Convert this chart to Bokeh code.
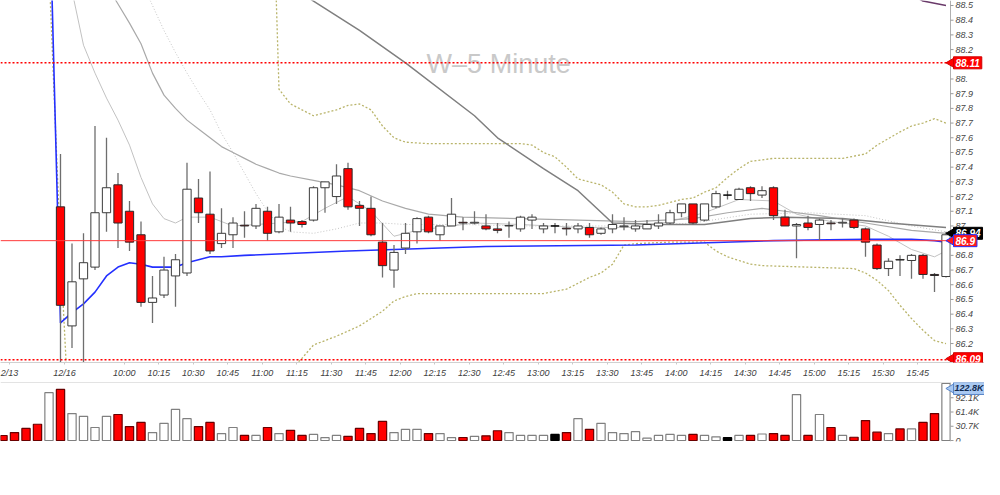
import math
from bokeh.plotting import figure
from bokeh.layouts import column
from bokeh.models import Range1d, FixedTicker, Label, ColumnDataSource
from bokeh.core.properties import value
from bokeh.embed import file_html
from bokeh.resources import INLINE

# ---------------- data ----------------
bar_index = list(range(-5, 78))          # 5-minute bars; 0 = 9:30 of 12/16
opens = [89.45, 89.35, 89.25, 89.10, 88.95,
         87.13, 86.32, 86.64, 86.72, 87.09, 87.28, 87.10, 86.94, 86.48, 86.53,
         86.66, 86.68, 87.19, 87.08, 86.88, 86.94, 87.005, 87.00, 87.10, 86.96,
         87.04, 87.03, 87.04, 87.26, 87.20, 87.39, 87.14, 87.12, 86.89, 86.70,
         86.85, 86.96, 87.06, 86.94, 87.00, 87.025, 87.02, 87.00, 86.98, 87.00,
         86.98, 87.04, 86.98, 87.00, 86.985, 86.98, 86.99, 86.95, 86.98, 86.995,
         86.98, 86.98, 87.00, 87.02, 87.09, 87.15, 87.04, 87.13, 87.21, 87.18,
         87.26, 87.21, 87.26, 87.06, 87.00, 87.02, 87.01, 87.02, 87.02, 87.04,
         86.98, 86.87, 86.71, 86.772, 86.765, 86.80, 86.67, 86.656]
highs = [89.52, 89.40, 89.30, 89.15, 89.30,
         87.49, 86.88, 86.95, 87.68, 87.60, 87.36, 87.17, 87.03, 86.66, 86.79,
         86.81, 87.43, 87.32, 87.37, 87.12, 87.06, 87.10, 87.15, 87.13, 87.15,
         87.13, 87.04, 87.27, 87.30, 87.42, 87.43, 87.17, 87.20, 87.02, 86.87,
         87.02, 87.06, 87.07, 87.00, 87.19, 87.06, 87.10, 87.08, 87.02, 87.03,
         87.07, 87.08, 87.02, 87.02, 87.02, 87.02, 87.02, 86.99, 87.08, 87.06,
         87.04, 87.04, 87.08, 87.11, 87.15, 87.15, 87.15, 87.24, 87.24, 87.26,
         87.27, 87.27, 87.27, 87.11, 87.02, 87.07, 87.05, 87.04, 87.05, 87.05,
         86.99, 86.88, 86.78, 86.80, 86.81, 86.81, 86.68, 86.96]
lows = [89.30, 89.20, 89.05, 88.90, 88.85,
        85.95, 86.17, 85.98, 86.70, 86.96, 86.85, 86.83, 86.45, 86.34, 86.51,
        86.45, 86.66, 87.02, 86.81, 86.85, 86.85, 86.92, 86.98, 86.90, 86.95,
        86.96, 86.99, 87.03, 87.09, 87.15, 87.11, 87.00, 86.93, 86.65, 86.58,
        86.81, 86.88, 86.95, 86.90, 87.00, 86.97, 87.01, 86.97, 86.95, 86.92,
        86.96, 86.98, 86.95, 86.95, 86.935, 86.95, 86.92, 86.94, 86.95, 86.97,
        86.96, 86.98, 86.98, 87.01, 87.06, 87.01, 87.03, 87.12, 87.18, 87.18,
        87.17, 87.19, 87.04, 87.00, 86.78, 86.97, 86.90, 86.97, 86.99, 86.98,
        86.79, 86.70, 86.66, 86.66, 86.64, 86.64, 86.55, 86.65]
closes = [89.35, 89.25, 89.10, 88.95, 89.20,
          86.46, 86.62, 86.75, 87.09, 87.26, 87.02, 86.89, 86.48, 86.51, 86.70,
          86.77, 87.25, 87.09, 86.83, 86.95, 87.02, 87.00, 87.12, 86.95, 87.06,
          87.02, 87.01, 87.26, 87.30, 87.34, 87.13, 87.12, 86.94, 86.73, 86.82,
          86.95, 87.05, 86.96, 87.00, 87.08, 87.02, 87.025, 86.98, 86.97, 87.003,
          87.06, 87.06, 87.00, 87.00, 86.98, 87.00, 86.94, 86.98, 87.01, 87.00,
          87.00, 87.01, 87.02, 87.09, 87.15, 87.02, 87.15, 87.22, 87.21, 87.25,
          87.22, 87.24, 87.07, 87.00, 87.01, 86.99, 87.04, 87.015, 87.025, 86.99,
          86.89, 86.71, 86.76, 86.768, 86.80, 86.67, 86.663, 86.94]
volumes_k = [10.8, 17, 26, 35, 103,
             110, 58, 52, 28, 52, 56, 30, 39, 17, 37,
             67, 47, 30, 39, 15, 28, 11, 11, 28, 15,
             22, 11, 13, 6, 11, 9, 26, 15, 41, 17,
             24, 24, 15, 15, 6, 6.5, 9, 10, 21, 17,
             11, 11, 11, 13, 17, 47, 24, 37, 17, 15,
             19, 5, 11, 13, 11, 13, 11, 8, 6, 11,
             11, 14, 15, 11, 99, 11, 56, 28, 11, 7,
             43, 18, 15, 25, 25, 39, 58, 122.8]

vwap_bar = [-1, 0, 1, 2, 3, 4, 5, 6, 7, 8, 9, 10, 11, 12, 13, 14, 16, 25, 37, 50, 62, 70, 74, 76, 77]
vwap = [89.35, 86.34, 86.41, 86.47, 86.55, 86.66, 86.72, 86.75, 86.74, 86.72, 86.72, 86.72,
        86.75, 86.77, 86.79, 86.79, 86.80, 86.83, 86.86, 86.87, 86.90, 86.91, 86.91, 86.90, 86.89]

ma_fast_bar = [0, 1, 2, 3, 4, 5, 6, 7, 8, 9, 10, 11, 13, 15, 17, 19, 21, 23, 25, 27, 29, 31,
               33, 36, 40, 45, 50, 53, 56, 59, 62, 64, 67, 70, 72, 74, 76, 77]
ma_fast = [88.95, 88.60, 88.23, 88.04, 87.87, 87.72, 87.55, 87.33, 87.15, 87.05, 87.02, 87.06,
           87.06, 87.00, 87.01, 87.02, 87.03, 87.12, 87.20, 87.10, 86.93, 86.97, 86.99, 87.02,
           87.01, 86.99, 86.99, 87.03, 87.09, 87.18, 87.17, 87.08, 87.03, 87.00, 86.93, 86.84,
           86.79, 86.83]

ma_mid_bar = [3, 4, 5, 6, 7, 8, 9, 10, 11, 12, 13, 14, 15, 16, 17, 18, 19, 20, 22, 24, 26, 28,
              30, 32, 35, 40, 45, 50, 55, 58, 61, 63, 66, 70, 74, 77]
ma_mid = [88.80, 88.64, 88.51, 88.38, 88.24, 88.04, 87.89, 87.80, 87.72, 87.66, 87.60, 87.54,
          87.50, 87.46, 87.42, 87.39, 87.36, 87.34, 87.31, 87.28, 87.24, 87.17, 87.12, 87.08,
          87.06, 87.05, 87.04, 87.03, 87.05, 87.09, 87.12, 87.10, 87.07, 87.02, 86.97, 86.95]

ma_dot_bar = [6, 7, 8, 9, 10, 11, 12, 13, 14, 15, 16, 17, 18, 19, 20, 22, 24, 26, 28, 30, 35,
              40, 45, 50, 55, 60, 65, 70, 74, 77]
ma_dot = [88.85, 88.67, 88.50, 88.33, 88.18, 88.04, 87.91, 87.79, 87.63, 87.50, 87.36, 87.22,
          87.10, 87.00, 86.96, 86.95, 86.98, 87.02, 87.02, 87.01, 87.01, 87.00, 87.00, 87.00,
          87.02, 87.08, 87.09, 87.07, 87.00, 86.96]

ma_slow_bar = [15, 22, 26, 30, 36, 38, 42, 45, 48, 52, 56, 60, 63, 68, 72, 77]
ma_slow = [88.88, 88.53, 88.33, 88.11, 87.75, 87.60, 87.39, 87.24, 87.02, 87.01, 87.01, 87.05,
           87.06, 87.05, 87.02, 86.99]

ma_long_bar = [72, 75, 77]
ma_long = [88.66, 88.53, 88.50]

bb_upper_bar = [-5, 0, 10, 17, 18, 19, 20, 21, 22, 23, 24, 25, 26, 27, 28, 29, 30, 32, 36, 40,
                41, 42, 43, 44, 45, 46, 47, 48, 49, 50, 51, 52, 53, 54, 55, 56, 57, 58, 59, 60,
                61, 62, 65, 68, 70, 71, 73, 74, 75, 76, 77]
bb_upper = [91.50, 91.30, 91.00, 90.70, 90.50, 87.93, 87.83, 87.79, 87.75, 87.77, 87.79, 87.82,
            87.83, 87.79, 87.68, 87.60, 87.57, 87.56, 87.56, 87.56, 87.55, 87.50, 87.47, 87.40,
            87.32, 87.30, 87.28, 87.23, 87.15, 87.13, 87.13, 87.14, 87.16, 87.18, 87.19, 87.23,
            87.26, 87.33, 87.39, 87.44, 87.45, 87.46, 87.46, 87.46, 87.49, 87.55, 87.64, 87.68,
            87.70, 87.73, 87.70]
bb_lower_bar = [-5, -1, 0, 1, 10, 18, 19, 20, 21, 22, 24, 26, 28, 29, 30, 31, 40, 42, 44, 45,
                46, 47, 48, 49, 50, 53, 56, 57, 58, 60, 61, 65, 69, 70, 71, 72, 73, 74, 75, 76, 77]
bb_lower = [88.95, 88.75, 86.83, 85.27, 84.90, 85.27, 85.88, 86.02, 86.10, 86.19, 86.25, 86.32,
            86.42, 86.49, 86.52, 86.54, 86.54, 86.54, 86.57, 86.61, 86.65, 86.68, 86.74, 86.87,
            86.88, 86.89, 86.89, 86.83, 86.79, 86.74, 86.73, 86.72, 86.71, 86.68, 86.63, 86.56,
            86.46, 86.37, 86.29, 86.22, 86.20]

prior_high = 88.11
prior_low = 86.09
ref_level = 86.90

time_labels = ["10:00", "10:15", "10:30", "10:45", "11:00", "11:15", "11:30", "11:45",
               "12:00", "12:15", "12:30", "12:45", "13:00", "13:15", "13:30", "13:45",
               "14:00", "14:15", "14:30", "14:45", "15:00", "15:15", "15:30", "15:45"]
date_labels = ["2/13", "12/16"]
price_tick_labels = ["86.2", "86.3", "86.4", "86.5", "86.6", "86.7", "86.8", "86.9", "87.",
                     "87.1", "87.2", "87.3", "87.4", "87.5", "87.6", "87.7", "87.8", "87.9",
                     "88.", "88.1", "88.2", "88.3", "88.4", "88.5"]
title_text = "W\u20135 Minute"

# ---------------- layout ----------------
FONT = "Liberation Sans"
PX = 11.5                    # pixels per bar
W = 984                      # full frame width (price axis column drawn inside)
AXPX = 950                   # pixel position of the price-axis line
X0 = -60 / PX
X1 = X0 + W / PX
AX = X0 + AXPX / PX
TICK = 3 / PX
P_LO, P_HI, P_H = 86.071, 88.534, 362
V_LO, V_HI, V_H = -2150, 124950, 59

p = figure(frame_width=W, frame_height=P_H, x_range=Range1d(X0, X1),
           y_range=Range1d(P_LO, P_HI), y_axis_location=None,
           output_backend="svg", toolbar_location=None,
           min_border_left=0, min_border_top=0, min_border_bottom=20, min_border_right=0)
p.xgrid.visible = False
p.ygrid.visible = False
p.outline_line_color = None
p.background_fill_color = "white"

# watermark
p.text(x=[38.1], y=[88.10], text=[title_text], text_font=value(FONT), text_font_size="27px",
       text_color="#c9c9c9", text_align="center", text_baseline="middle")

# bands / averages (under the candles)
p.line(bb_upper_bar, bb_upper, line_color="#b9b46a", line_width=1.3, line_dash="2 2")
p.line(bb_lower_bar, bb_lower, line_color="#b9b46a", line_width=1.3, line_dash="2 2")
p.line(ma_dot_bar, ma_dot, line_color="#c4c4c4", line_width=1, line_dash="1 2")
p.line(ma_fast_bar, ma_fast, line_color="#c2c2c2", line_width=1)
p.line(ma_mid_bar, ma_mid, line_color="#a9a9a9", line_width=1.2)
p.line(ma_slow_bar, ma_slow, line_color="#7f7f7f", line_width=1.5)
p.line(ma_long_bar, ma_long, line_color="#6a3a6a", line_width=1.5)
p.line(vwap_bar, vwap, line_color="#2430ff", line_width=1.6)

# colours per bar
fills, edges, vedges = [], [], []
for o, c in zip(opens, closes):
    if c < o:
        fills.append("#ff0000"); edges.append("#2a2a2a"); vedges.append("#6a0000")
    elif c > o:
        fills.append("#ffffff"); edges.append("#3a3a3a"); vedges.append("#808080")
    else:
        fills.append("#000000"); edges.append("#000000"); vedges.append("#000000")

# candles of the current session (prior-session candles lie above the visible range)
sess = [i for i, b in enumerate(bar_index) if b >= 0]
csrc = ColumnDataSource(dict(
    x=[bar_index[i] for i in sess], h=[highs[i] for i in sess], l=[lows[i] for i in sess],
    top=[max(opens[i], closes[i]) for i in sess], bot=[min(opens[i], closes[i]) for i in sess],
    fill=[fills[i] for i in sess], edge=[edges[i] for i in sess]))
p.segment(x0="x", y0="l", x1="x", y1="h", source=csrc, line_color="#6e6e6e", line_width=1.3)
p.vbar(x="x", width=0.72, top="top", bottom="bot", source=csrc,
       fill_color="fill", line_color="edge", line_width=1)

# reference levels (stop at the price axis)
p.segment(x0=[X0], y0=[ref_level], x1=[AX], y1=[ref_level], line_color="#ff3a3a", line_width=1)
p.segment(x0=[X0, X0], y0=[prior_high, prior_low], x1=[AX, AX], y1=[prior_high, prior_low],
          line_color="#ff0000", line_width=1.5, line_dash="2 2")


# right-hand value axis drawn inside the frame (so that value tags can overlap it)
def value_axis(fig, ticks, labels, lo, hi):
    fig.segment(x0=[AX], y0=[lo], x1=[AX], y1=[hi], line_color="#b0b0b0", line_width=1)
    fig.segment(x0=[AX] * len(ticks), y0=ticks, x1=[AX + TICK] * len(ticks), y1=ticks,
                line_color="#9a9a9a", line_width=1)
    fig.text(x=[AX] * len(ticks), y=ticks, text=labels, x_offset=5,
             text_font=value(FONT), text_font_size="9px", text_font_style="italic",
             text_color="#454545", text_align="left", text_baseline="middle")


def tag(fig, y, text, bg, fg, border, upp, size="10px", pad=2, dy=0):
    fig.scatter(x=[AX + 0.05], y=[y + dy * upp], marker="triangle", angle=math.pi / 2, size=9,
                fill_color=bg, line_color=border, line_width=1)
    fig.add_layout(Label(x=AX, y=y, text=text, x_offset=3, y_offset=dy,
                         text_align="left", text_baseline="middle", text_font=FONT,
                         text_font_size=size, text_font_style="bold italic", text_color=fg,
                         background_fill_color=bg, border_line_color=border,
                         border_line_width=1, padding=pad))


p_upp = (P_HI - P_LO) / P_H
value_axis(p, [float(s) for s in price_tick_labels], price_tick_labels, P_LO, P_HI)
tag(p, prior_high, f"{prior_high:.2f}", "#ff0000", "white", "#d00000", p_upp)
tag(p, prior_low, f"{prior_low:.2f}", "#ff0000", "white", "#d00000", p_upp, dy=1)
tag(p, closes[-1] + 0.01, f"{closes[-1]:.2f}", "#000000", "white", "#000000", p_upp)
tag(p, ref_level, f"{ref_level:.1f}", "#ff1a1a", "white", "#2430ff", p_upp)


def bar_of(t):
    h, m = map(int, t.split(":"))
    return (h * 60 + m - (9 * 60 + 30)) / 5


xt = {round(bar_of(t) - 0.45, 3): t for t in time_labels}
xt[round(X0 + 0.78, 3)] = date_labels[0]
xt[round(0 + 0.35, 3)] = date_labels[1]
p.xaxis.ticker = FixedTicker(ticks=sorted(xt))
p.xaxis.major_label_overrides = xt
p.xaxis.major_label_text_font = FONT
p.xaxis.major_label_text_font_size = "9px"
p.xaxis.major_label_text_font_style = "italic"
p.xaxis.major_label_text_color = "#404040"
p.xaxis.major_label_standoff = 3
p.xaxis.major_tick_out = 2
p.xaxis.major_tick_in = 0
p.xaxis.major_tick_line_color = "#c8c8c8"
p.xaxis.minor_tick_line_color = None
p.xaxis.axis_line_color = "#d0d0d0"

# ---------------- volume panel ----------------
vmax = max(volumes_k) * 1000
vsrc = ColumnDataSource(dict(x=bar_index, vol=[v * 1000 for v in volumes_k],
                             fill=fills, vedge=vedges))
pv = figure(frame_width=W, frame_height=V_H, x_range=p.x_range,
            y_range=Range1d(V_LO, V_HI), y_axis_location=None, x_axis_location=None,
            output_backend="svg", toolbar_location=None,
            min_border_left=0, min_border_top=0, min_border_bottom=10, min_border_right=0)
pv.xgrid.visible = False
pv.ygrid.visible = False
pv.outline_line_color = None
pv.segment(x0=[X0], y0=[V_HI], x1=[AX], y1=[V_HI], line_color="#c8c8c8", line_width=1)
pv.vbar(x="x", width=0.72, top="vol", bottom=0, source=vsrc,
        fill_color="fill", line_color="vedge", line_width=1.2)

vt = [0, vmax / 4, vmax / 2, vmax * 3 / 4]
value_axis(pv, vt, ["0" if t == 0 else f"{t / 1000:.1f}K" for t in vt], V_LO, V_HI)
tag(pv, vmax, f"{vmax / 1000:.1f}K", "#a9c9f2", "#102a50", "#5a86c8",
    (V_HI - V_LO) / V_H, size="9px", pad=1, dy=-5)

layout = column(p, pv)
open("out.html", "w").write(file_html(layout, INLINE))
